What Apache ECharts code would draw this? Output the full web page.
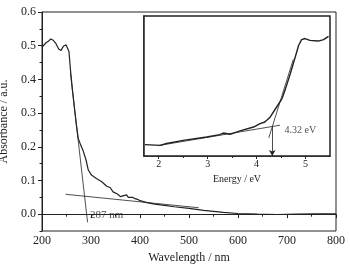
<!DOCTYPE html>
<html>
<head>
<meta charset="utf-8">
<script src="https://cdn.jsdelivr.net/npm/echarts@6/dist/echarts.min.js"></script>
<style>
  html, body { margin: 0; padding: 0; background: #fff; }
  #Chart { width: 350px; height: 269px; }
</style>
</head>
<body>
<div id="Chart"></div>
<script>
// UV-vis absorbance spectrum with band-gap inset

const wavelength = [200, 202.7, 207.5, 212.9, 217.7, 223, 228.6, 234, 238.8, 243.5, 249, 252.4, 255, 258,
  262, 266, 270, 274, 279, 284, 290, 294.5, 301, 311, 322, 332, 339, 345, 354, 360, 363, 367, 373, 376,
  380, 385, 390, 395, 400, 414, 430, 450, 470, 500, 530, 570, 600, 640, 680, 720, 760, 800];
const absorbance = [0.495, 0.490, 0.508, 0.513, 0.520, 0.516, 0.506, 0.490, 0.486, 0.498, 0.503, 0.500, 0.483, 0.430,
  0.370, 0.318, 0.267, 0.225, 0.205, 0.188, 0.160, 0.131, 0.116, 0.106, 0.096, 0.083, 0.079, 0.066, 0.060, 0.052, 0.050, 0.055, 0.057, 0.050,
  0.048, 0.050, 0.046, 0.044, 0.040, 0.034, 0.030, 0.026, 0.022, 0.017, 0.011, 0.005, 0.002, 0.000, -0.001, 0.000, 0.001, 0.001];

// tangent lines on main plot
const edgeTangent = [[258, 0.420], [293, -0.024]];
const baseTangent = [[248, 0.059], [520, 0.019]];

const yMajor = [0, 0.1, 0.2, 0.3, 0.4, 0.5, 0.6];
const yMinor = [-0.05, 0.05, 0.15, 0.25, 0.35, 0.45, 0.55];

// inset: energy vs transformed absorbance (arb.)
const energy = [1.72, 2.03, 2.16, 2.50, 2.98, 3.25, 3.32, 3.46, 3.66, 3.94, 4.07, 4.17, 4.28, 4.41, 4.52, 4.58,
  4.69, 4.79, 4.86, 4.92, 4.99, 5.09, 5.26, 5.37, 5.47];
const insetVal = [0.081, 0.076, 0.089, 0.112, 0.136, 0.153, 0.164, 0.155, 0.179, 0.207, 0.231, 0.243, 0.279, 0.35, 0.41, 0.469,
  0.589, 0.707, 0.791, 0.831, 0.839, 0.826, 0.821, 0.831, 0.855];
const insetBase = [[2.0, 0.075], [4.48, 0.220]];
const insetEdge = [[4.25, 0.130], [4.75, 0.690]];
const insetArrow = [[4.32, 0.21], [4.32, 0.0]];
const eMajor = [2, 3, 4, 5];
const eMinor = [2.5, 3.5, 4.5];

const serif = 'Liberation Serif';
const ink = '#222';

const option = {
  backgroundColor: '#fff',
  animation: false,
  textStyle: { fontFamily: serif, color: ink },
  grid: [
    { left: 42, right: 14, top: 12, bottom: 38, outerBoundsMode: 'none',
      show: true, borderColor: ink, borderWidth: 1 },
    { left: 144, top: 16, width: 186, height: 140, outerBoundsMode: 'none',
      show: true, borderColor: ink, borderWidth: 1.5, backgroundColor: '#fff', z: 5 }
  ],
  xAxis: [
    {
      gridIndex: 0, type: 'value', min: 200, max: 800, interval: 100,
      name: 'Wavelength / nm', nameLocation: 'middle', nameGap: 20,
      nameTextStyle: { fontFamily: serif, fontSize: 12, color: ink },
      axisLine: { lineStyle: { color: ink } },
      axisTick: { length: 4, lineStyle: { color: ink } },
      minorTick: { show: true, splitNumber: 2, length: 2.5, lineStyle: { color: ink } },
      axisLabel: { fontFamily: serif, fontSize: 12, color: ink, margin: 4 },
      splitLine: { show: false }
    },
    {
      gridIndex: 1, type: 'value', min: 1.7, max: 5.5,
      name: 'Energy / eV', nameLocation: 'middle', nameGap: 15,
      nameTextStyle: { fontFamily: serif, fontSize: 10, color: ink },
      axisLine: { lineStyle: { color: ink, width: 1.5 } },
      axisTick: { length: 3, customValues: eMajor, lineStyle: { color: ink } },
      axisLabel: { fontFamily: serif, fontSize: 10, color: ink, margin: 3, customValues: eMajor },
      splitLine: { show: false }
    },
    {
      gridIndex: 1, type: 'value', min: 1.7, max: 5.5, position: 'bottom',
      axisLine: { show: false },
      axisTick: { length: 2, customValues: eMinor, lineStyle: { color: ink } },
      axisLabel: { show: false },
      splitLine: { show: false }
    }
  ],
  yAxis: [
    {
      gridIndex: 0, type: 'value', min: -0.05, max: 0.6, position: 'left',
      name: 'Absorbance / a.u.', nameLocation: 'middle', nameGap: 27,
      nameTextStyle: { fontFamily: serif, fontSize: 12, color: ink },
      axisLine: { show: true, lineStyle: { color: ink } },
      axisTick: { show: true, length: 4, customValues: yMajor, lineStyle: { color: ink } },
      axisLabel: { fontFamily: serif, fontSize: 12, color: ink, margin: 6, customValues: yMajor,
        formatter: v => v.toFixed(1) },
      splitLine: { show: false }
    },
    {
      gridIndex: 0, type: 'value', min: -0.05, max: 0.6, position: 'left',
      axisLine: { show: false },
      axisTick: { show: true, length: 2.5, customValues: yMinor, lineStyle: { color: ink } },
      axisLabel: { show: false },
      splitLine: { show: false }
    },
    {
      gridIndex: 1, type: 'value', min: 0, max: 1,
      axisLine: { show: true, lineStyle: { color: ink, width: 1.5 } },
      axisTick: { show: false },
      axisLabel: { show: false },
      splitLine: { show: false }
    }
  ],
  series: [
    {
      type: 'line', xAxisIndex: 0, yAxisIndex: 0, symbol: 'none',
      lineStyle: { color: ink, width: 1.2 },
      data: wavelength.map((w, i) => [w, absorbance[i]])
    },
    {
      type: 'line', xAxisIndex: 0, yAxisIndex: 0, symbol: 'none',
      lineStyle: { color: ink, width: 0.8 }, data: edgeTangent
    },
    {
      type: 'line', xAxisIndex: 0, yAxisIndex: 0, symbol: 'none',
      lineStyle: { color: ink, width: 0.8 }, data: baseTangent
    },
    {
      type: 'scatter', xAxisIndex: 0, yAxisIndex: 0, symbolSize: 0,
      label: { show: true, position: 'right', distance: 1, formatter: '287 nm',
        fontFamily: serif, fontSize: 11, color: ink },
      data: [[296, -0.003]]
    },
    // inset
    {
      type: 'line', xAxisIndex: 1, yAxisIndex: 2, symbol: 'none', z: 6,
      lineStyle: { color: ink, width: 1.4 },
      data: energy.map((e, i) => [e, insetVal[i]])
    },
    {
      type: 'line', xAxisIndex: 1, yAxisIndex: 2, symbol: 'none', z: 6,
      lineStyle: { color: ink, width: 0.8 }, data: insetBase
    },
    {
      type: 'line', xAxisIndex: 1, yAxisIndex: 2, symbol: 'none', z: 6,
      lineStyle: { color: ink, width: 0.8 }, data: insetEdge,
      markLine: {
        silent: true, symbol: ['none', 'arrow'], symbolSize: [5, 6],
        label: { show: false },
        lineStyle: { color: ink, width: 0.8, type: 'solid' },
        data: [[{ coord: insetArrow[0] }, { coord: insetArrow[1] }]]
      }
    },
    {
      type: 'scatter', xAxisIndex: 1, yAxisIndex: 2, symbolSize: 0, z: 6,
      label: { show: true, position: 'right', distance: 1, formatter: '4.32 eV',
        fontFamily: serif, fontSize: 10, color: ink },
      data: [[4.55, 0.18]]
    }
  ]
};

const myChart = echarts.init(document.getElementById('Chart'));
myChart.setOption(option);
</script>
</body>
</html>
